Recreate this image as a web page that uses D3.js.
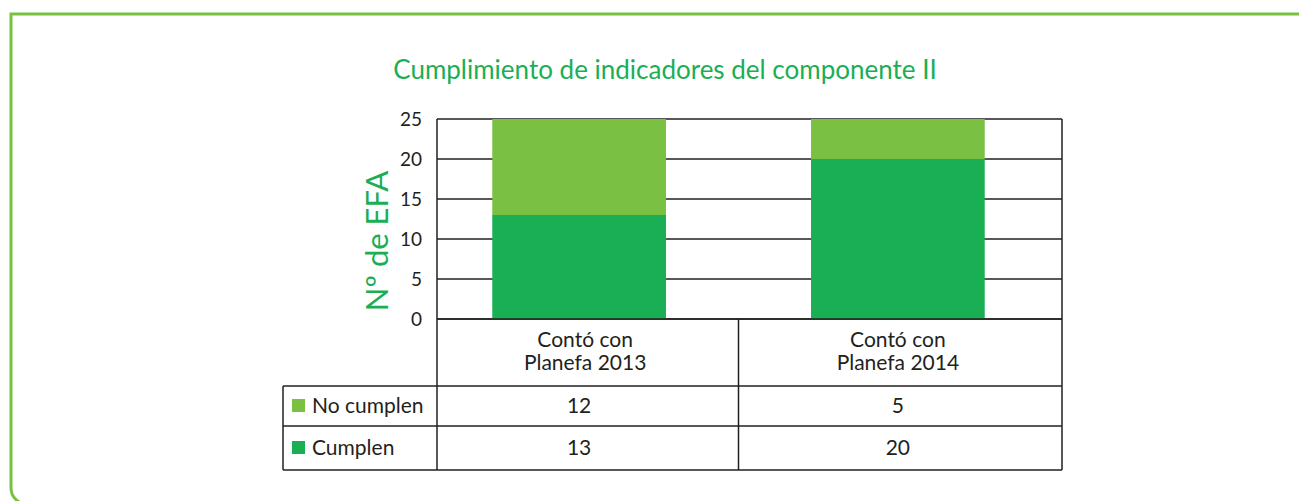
<!DOCTYPE html>
<html>
<head>
<meta charset="utf-8">
<script src="https://cdn.jsdelivr.net/npm/d3@7"></script>
<style>
  body { margin: 0; background: #fff; }
  svg { display: block; font-family: Lato, "Noto Sans", sans-serif; }
</style>
</head>
<body>
<svg></svg>
<script>
// données du graphique
var categories = ["Contó con Planefa 2013", "Contó con Planefa 2014"]
var etiquettes = [["Contó con", "Planefa 2013"], ["Contó con", "Planefa 2014"]]
var series = ["No cumplen", "Cumplen"]
var noCumplen = [12, 5]
var cumplen = [13, 20]
var yTicks = [0, 5, 10, 15, 20, 25]

var vert = "#7ac143", vertFonce = "#1aaf54", encre = "#231f20"
var couleurs = {"No cumplen": vert, "Cumplen": vertFonce}

var canevas = d3.select("svg").attr("width", 1299).attr("height", 501)

// cadre vert
canevas.append("path")
  .attr("d", "M1299,14 H11 V488 A16 16 0 0 0 27 504")
  .attr("style", "fill:none;stroke:" + vert + ";stroke-width:3")

// titre
canevas.append("text")
  .text("Cumplimiento de indicadores del componente II")
  .attr("x", 665).attr("y", 79)
  .attr("text-anchor", "middle")
  .attr("fill", vertFonce)
  .style("font-size", "26px")

// zone du graphique
var gauche = 437, droite = 1062, haut = 119, bas = 319
var y = d3.scaleLinear().domain([0, 25]).range([bas, haut])
var x = d3.scaleBand().domain(categories).range([418, 1059])
  .paddingInner(0.455).paddingOuter(0.233)

// titre axe y
canevas.append("text")
  .text("Nº de EFA")
  .attr("transform", "translate(388,241) rotate(-90)")
  .attr("text-anchor", "middle")
  .attr("fill", vertFonce)
  .style("font-size", "31px")

// lignes de grille
canevas.selectAll("line.grille")
  .data(yTicks)
  .enter()
  .append("line")
  .attr("class", "grille")
  .attr("x1", gauche).attr("x2", droite)
  .attr("y1", function(d){return y(d)}).attr("y2", function(d){return y(d)})
  .attr("style", "stroke:" + encre + ";stroke-width:1.3")

// barres empilées
var table = categories.map(function(c, i){
  return {cat: c, "Cumplen": cumplen[i], "No cumplen": noCumplen[i]}
})
var pile = d3.stack().keys(["Cumplen", "No cumplen"])(table)

canevas.selectAll("g.serie")
  .data(pile)
  .enter()
  .append("g")
  .attr("fill", function(d){return couleurs[d.key]})
  .selectAll("rect")
  .data(function(d){return d})
  .enter()
  .append("rect")
  .attr("x", function(d){return x(d.data.cat)})
  .attr("width", x.bandwidth())
  .attr("y", function(d){return y(d[1])})
  .attr("height", function(d){return y(d[0]) - y(d[1])})

// axe y
var axe = canevas.append("g")
  .attr("transform", "translate(" + gauche + ",0)")
  .call(d3.axisLeft(y).tickValues(yTicks).tickSize(0).tickPadding(15))
axe.select(".domain").remove()
axe.selectAll("text")
  .attr("fill", encre)
  .style("font-size", "19px")
  .style("font-family", "Lato, 'Noto Sans', sans-serif")

// tableau de données
var gaucheTab = 283, ligne1 = 386, ligne2 = 426, fin = 470
var centres = categories.map(function(c){return x(c) + x.bandwidth() / 2})
var separation = (x(categories[0]) + x.bandwidth() + x(categories[1])) / 2
var trait = "stroke:" + encre + ";stroke-width:1.5"

function ligne(x1, y1, x2, y2){
  canevas.append("line")
    .attr("x1", x1).attr("y1", y1).attr("x2", x2).attr("y2", y2)
    .attr("style", trait)
}
ligne(gauche, haut, gauche, fin)
ligne(droite, haut, droite, fin)
ligne(separation, bas, separation, fin)
ligne(gaucheTab, ligne1, droite, ligne1)
ligne(gaucheTab, ligne2, droite, ligne2)
ligne(gaucheTab, fin, droite, fin)
ligne(gaucheTab, ligne1, gaucheTab, fin)
ligne(gauche, bas, droite, bas)

// étiquettes des catégories
etiquettes.forEach(function(lignes, i){
  lignes.forEach(function(t, k){
    canevas.append("text")
      .text(t)
      .attr("x", centres[i] + (i == 0 ? 6 : 0))
      .attr("y", 347 + k * 23)
      .attr("text-anchor", "middle")
      .attr("fill", encre)
      .style("font-size", "21px")
  })
})

// lignes de valeurs avec légende
var valeurs = {"No cumplen": noCumplen, "Cumplen": cumplen}
series.forEach(function(s, r){
  var yl = r == 0 ? (ligne1 + ligne2) / 2 : (ligne2 + fin) / 2
  canevas.append("rect")
    .attr("x", 292).attr("y", yl - 7)
    .attr("width", 13).attr("height", 13)
    .attr("fill", couleurs[s])
  canevas.append("text")
    .text(s)
    .attr("x", 312).attr("y", yl + 7)
    .attr("fill", encre)
    .style("font-size", "21px")
  valeurs[s].forEach(function(v, i){
    canevas.append("text")
      .text(v)
      .attr("x", centres[i])
      .attr("y", yl + 7)
      .attr("text-anchor", "middle")
      .attr("fill", encre)
      .style("font-size", "21px")
  })
})
</script>
</body>
</html>
